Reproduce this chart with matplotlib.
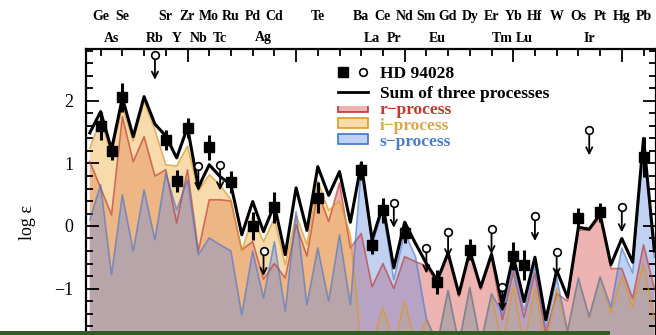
import numpy as np
import matplotlib
matplotlib.use("Agg")
import matplotlib.pyplot as plt
from matplotlib.patches import Patch, Rectangle
from matplotlib.lines import Line2D
from matplotlib.legend_handler import HandlerTuple
from matplotlib.ticker import MultipleLocator

plt.rcParams['font.family'] = ['Liberation Serif', 'DejaVu Serif']

# atomic number grid of the model curves
Z = np.arange(31, 84)

sum_model = [1.49, 1.83, 1.22, 2.05, 1.43, 2.07, 1.63, 1.44, 1.09, 1.58,
             0.62, 0.98, 0.79, 0.66, -0.14, 0.39, -0.09, 0.34, -0.46, 0.61,
             -0.07, 0.95, 0.49, 0.87, 0.06, 1.00, -0.22, 0.33, -0.67, 0.06,
             -0.28, -0.60, -0.87, -0.43, -1.09, -0.40, -0.98, -0.45, -1.27, -0.48,
             -1.21, -0.50, -1.50, -0.71, -1.14, -0.02, -0.05, 0.19, -0.62, -0.20,
             -0.58, 1.40, -0.40]
r_process = [1.03, 0.61, 0.18, 1.75, 1.03, 1.43, 0.80, 0.90, 0.05, 0.90,
             -0.40, 0.42, 0.42, 0.40, -0.38, -0.25, -0.85, -0.60, -0.83, 0.02,
             -0.48, 0.55, 0.07, 0.69, -0.35, -0.12, -0.97, -0.60, -1.00, -0.49,
             -0.57, -0.64, -0.91, -0.47, -1.13, -0.44, -1.02, -0.49, -1.50, -0.73,
             -1.46, -0.75, -1.72, -1.08, -1.20, -0.06, -0.07, 0.15, -0.68, -0.68,
             -1.16, -0.30, -1.00]
i_process = [1.25, 1.70, 1.14, 1.92, 1.36, 2.00, 1.54, 0.98, 0.96, 1.28,
             0.56, 0.82, 0.66, 0.42, -0.40, 0.15, -0.25, 0.12, -0.62, 0.18,
             -0.30, 0.72, 0.25, 0.40, -0.14, -1.90, -1.90, -1.30, -1.90, -1.20,
             -1.90, -1.50, -1.90, -1.05, -1.90, -1.00, -1.90, -1.10, -1.90, -0.97,
             -1.90, -1.00, -1.90, -1.00, -1.70, -0.85, -1.47, -0.83, -1.40, -0.80,
             -1.30, -0.60, -1.50]
s_process = [0.10, 0.66, -0.78, 0.50, -0.40, 0.58, -0.22, 0.85, 0.26, 0.74,
             -0.46, -0.19, -0.30, -0.40, -1.42, -0.40, -1.15, -0.25, -1.36, 0.23,
             -1.26, -0.35, -1.20, -0.14, -1.26, 0.95, -0.30, 0.28, -0.86, -0.10,
             -0.49, -1.48, -1.88, -1.03, -1.88, -0.98, -1.88, -1.08, -1.40, -0.62,
             -1.35, -0.64, -1.62, -0.82, -1.68, -0.83, -1.45, -0.81, -1.30, -0.35,
             -0.75, 1.38, -0.50]

# HD 94028 detections
det_z = [32, 33, 34, 38, 39, 40, 42, 44, 46, 48, 52, 56, 57, 58, 60, 63, 66, 70, 71, 76, 78, 82]
det_val = [1.60, 1.20, 2.06, 1.38, 0.72, 1.57, 1.26, 0.70, 0.00, 0.30, 0.45, 0.89, -0.30,
           0.25, -0.11, -0.89, -0.38, -0.48, -0.62, 0.13, 0.22, 1.10]
det_err = [0.23, 0.15, 0.23, 0.16, 0.17, 0.16, 0.20, 0.18, 0.22, 0.25, 0.25, 0.15, 0.15,
           0.20, 0.17, 0.19, 0.17, 0.23, 0.24, 0.16, 0.15, 0.32]

# HD 94028 upper limits
lim_z = [37, 41, 43, 47, 59, 62, 64, 68, 69, 72, 74, 77, 80]
lim_val = [2.74, 0.96, 0.97, -0.40, 0.37, -0.36, -0.10, -0.05, -0.97, 0.16, -0.41, 1.53, 0.30]

elem_z = [32, 33, 34, 37, 38, 39, 40, 41, 42, 43, 44, 46, 47, 48, 52, 56, 57, 58, 59, 60,
          62, 63, 64, 66, 68, 69, 70, 71, 72, 74, 76, 77, 78, 80, 82]
elem_sym = ["Ge", "As", "Se", "Rb", "Sr", "Y", "Zr", "Nb", "Mo", "Tc", "Ru", "Pd", "Ag", "Cd",
            "Te", "Ba", "La", "Ce", "Pr", "Nd", "Sm", "Eu", "Gd", "Dy", "Er", "Tm", "Yb", "Lu",
            "Hf", "W", "Os", "Ir", "Pt", "Hg", "Pb"]

ARROW = 0.4  # length of upper-limit arrows in dex

style = {
    'r': dict(fill=(0.85, 0.35, 0.33), line=(0.75, 0.22, 0.20), alpha=0.45, text='#c0392b'),
    'i': dict(fill=(0.95, 0.72, 0.35), line=(0.86, 0.60, 0.15), alpha=0.50, text='#d8a84a'),
    's': dict(fill=(0.40, 0.55, 0.88), line=(0.25, 0.45, 0.80), alpha=0.40, text='#4a7ccc'),
}

W, H = 656, 335
fig = plt.figure(figsize=(W / 100, H / 100), dpi=100)
# axes box in pixels: left 86, right 656, top 49, runs past the bottom edge
ax = fig.add_axes([86 / W, (H - 375) / H, 570 / W, 326 / H])
ax.set_xlim(30.65, 83.15)
ax.set_ylim(-2.384, 2.832)

floor = -5
for vals, key in [(r_process, 'r'), (i_process, 'i'), (s_process, 's')]:
    st = style[key]
    ax.fill_between(Z, vals, floor, facecolor=st['fill'], edgecolor='none', alpha=st['alpha'])
    ax.plot(Z, vals, color=st['line'], lw=1.2, alpha=min(1, st['alpha'] + 0.2))

ax.plot(Z, sum_model, color='black', lw=2.2, zorder=5)

ax.errorbar(det_z, det_val, yerr=det_err, fmt='s', color='black', ms=7.5,
            elinewidth=2.2, capsize=0, zorder=7)
ax.plot(lim_z, lim_val, 'o', mfc='white', mec='black', ms=5.5, mew=1.2, zorder=8)
for z, v in zip(lim_z, lim_val):
    ax.annotate('', xy=(z, v - ARROW), xytext=(z, v),
                arrowprops=dict(arrowstyle='->', lw=1.3, color='black',
                                shrinkA=2.5, shrinkB=0, mutation_scale=11),
                zorder=7)

# ticks
ax.xaxis.set_major_locator(MultipleLocator(10))
ax.xaxis.set_minor_locator(MultipleLocator(2))
ax.yaxis.set_major_locator(MultipleLocator(1))
ax.yaxis.set_minor_locator(MultipleLocator(0.2))
ax.tick_params(which='both', direction='in', top=True, right=True, width=1.3,
               labelbottom=False, labelsize=13, pad=9)
ax.tick_params(which='major', length=9.5)
ax.tick_params(which='minor', length=4.8)
for sp in ax.spines.values():
    sp.set_linewidth(1.6)

ax.set_ylabel('log ε', fontsize=13)
ax.yaxis.set_label_coords((29 - 86) / 570 + 0.012, 1 - (222 - 49) / 326)

# element names above the top axis, alternating rows
tr = ax.get_xaxis_transform()
for z, sym in zip(elem_z, elem_sym):
    yrow = 1 + (49 - 17) / 326 if z % 2 == 0 else 1 + (49 - 38) / 326
    ax.text(z, yrow, sym, transform=tr, ha='center', va='center',
            fontsize=10, fontweight='bold', clip_on=False)

# legends
lfont = dict(size=12.5, weight='bold')
h_star = (Line2D([], [], ls='none', marker='s', color='black', ms=7),
          Line2D([], [], ls='none', marker='o', mfc='white', mec='black', ms=5.5, mew=1.2))
h_sum = Line2D([], [], color='black', lw=2)
proc = [('r', 'r\u2212process'), ('i', 'i\u2212process'), ('s', 's\u2212process')]
h_proc = [Patch(facecolor=style[k]['fill'] + (style[k]['alpha'],),
                edgecolor=style[k]['line'], lw=1.2) for k, _ in proc]
leg2 = ax.legend(h_proc, [t for _, t in proc], loc='upper left',
                 bbox_to_anchor=((338 - 86) / 570, 1 - (101.5 - 49) / 326),
                 frameon=False, prop=lfont, handlelength=1.7, handleheight=0.5,
                 handletextpad=0.7, labelspacing=0.0, borderpad=0, borderaxespad=0)
for t, (k, _) in zip(leg2.get_texts(), proc):
    t.set_color(style[k]['text'])
ax.add_artist(leg2)
leg1 = ax.legend([h_star, h_sum], ['HD 94028', 'Sum of three processes'], loc='upper left',
                 bbox_to_anchor=((334 - 86) / 570, 1 - (61.5 - 49) / 326),
                 handler_map={tuple: HandlerTuple(ndivide=None, pad=0.6)},
                 frameon=True, facecolor='white', edgecolor='none', framealpha=1,
                 fancybox=False, prop=lfont, handlelength=1.7, handletextpad=0.7,
                 labelspacing=0.23, borderpad=0.25, borderaxespad=0)
leg1.set_zorder(10)

# green strip along the bottom edge of the picture
fig.patches.append(Rectangle((0, 0), 610 / W, 4 / H, transform=fig.transFigure,
                             facecolor='#2f5d22', edgecolor='none'))

fig.savefig('out.png', dpi=100)
